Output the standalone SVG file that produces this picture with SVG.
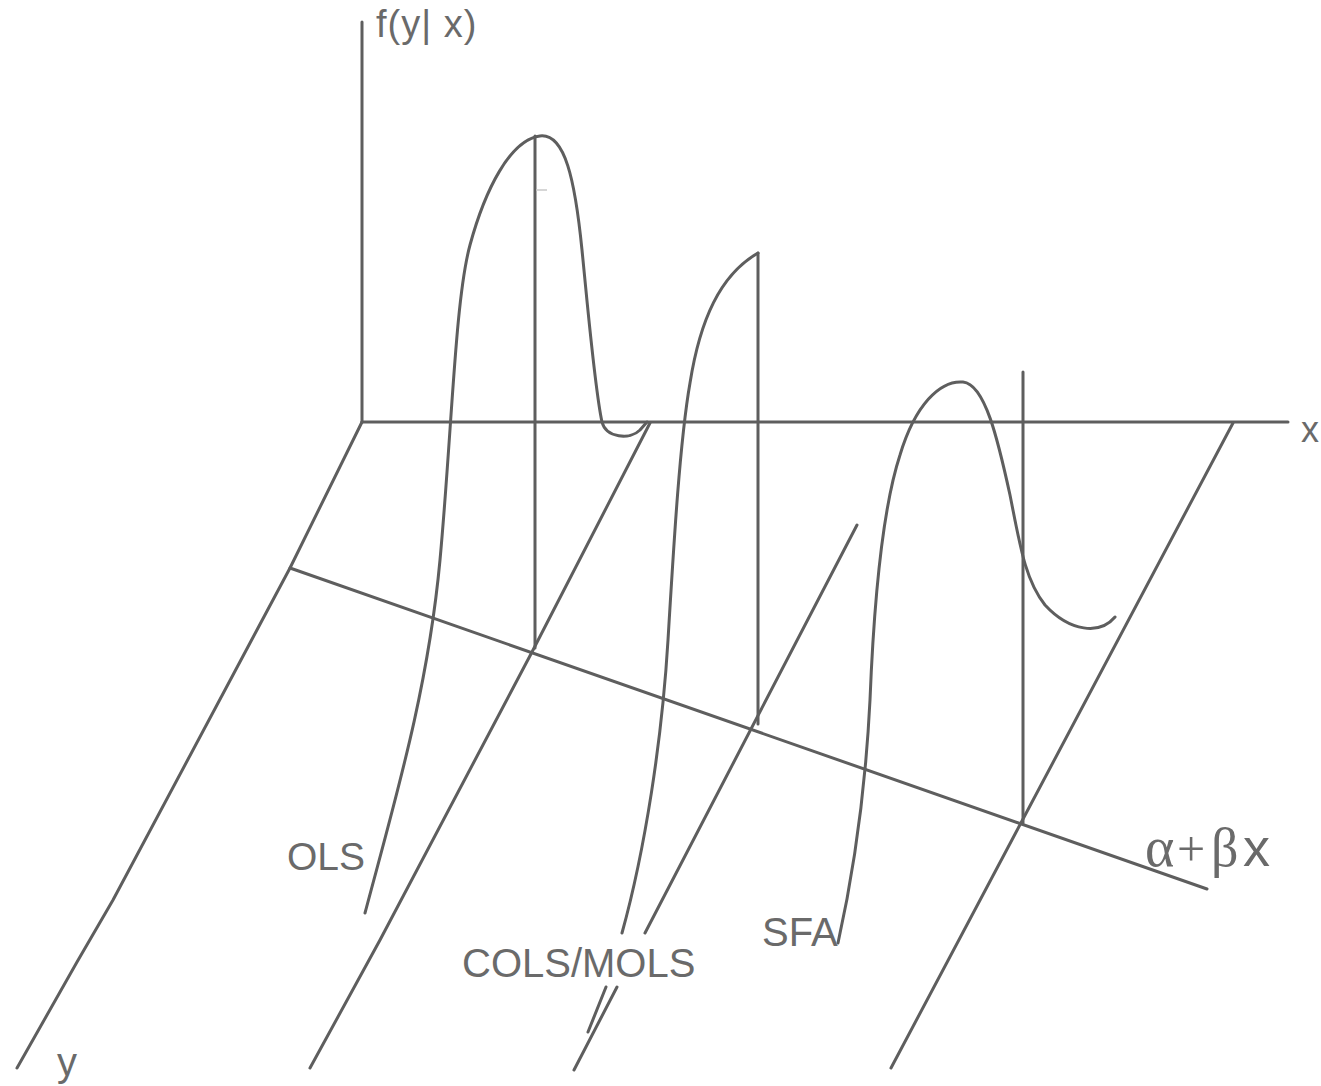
<svg xmlns="http://www.w3.org/2000/svg" width="1321" height="1086" viewBox="0 0 1321 1086">
<style>
.ln{fill:none;stroke:#5e5e5e;stroke-width:3;stroke-linecap:round;stroke-linejoin:round}
.lbl{font-family:"Liberation Sans",Arial,sans-serif;fill:#6a6a6a}
.sym{font-family:"Liberation Serif","DejaVu Serif",serif;fill:#6a6a6a}
</style>
<rect width="1321" height="1086" fill="#ffffff"/>
<g id="axes">
<line class="ln" x1="362" y1="22" x2="362" y2="422"/>
<line class="ln" x1="362" y1="422" x2="1288" y2="422"/>
</g>
<g id="floor-lines">
<polyline class="ln" points="362,422 290,568 113,900 77,962 17,1068"/>
<polyline class="ln" points="650,423 532,652 380,940 310,1068"/>
<line class="ln" x1="857" y1="525" x2="645" y2="933"/>
<line class="ln" x1="617" y1="987" x2="574" y2="1070"/>
<line class="ln" x1="1233" y1="423" x2="891" y2="1068"/>
</g>
<g id="regression-line">
<line class="ln" x1="290" y1="568" x2="1207" y2="889"/>
</g>
<g id="verticals">
<line class="ln" x1="535" y1="136" x2="535" y2="648"/>
<line class="ln" x1="758" y1="253" x2="758" y2="724"/>
<line class="ln" x1="1023" y1="372" x2="1023" y2="823"/>
<line x1="536" y1="190" x2="547" y2="190" stroke="#c8c8c8" stroke-width="1.5"/>
</g>
<g id="curve-ols">
<path class="ln" d="M365,913 C395,800 428,690 440,560 C452,430 455,300 470,245 C485,190 510,140 540,136 C565,133 575,180 582,250 C589,320 595,390 602,422 C606,438 630,440 640,430 L647,422"/>
</g>
<g id="curve-cols">
<path class="ln" d="M622,933 C645,850 662,740 668,640 C674,540 680,440 690,383 C700,320 720,275 758,253"/>
<line class="ln" x1="606" y1="987" x2="588" y2="1032"/>
</g>
<g id="curve-sfa">
<path class="ln" d="M838,943 C852,880 865,800 870,700 C874,600 882,510 900,455 C915,405 940,380 963,382 C985,384 998,440 1010,495 C1020,545 1025,580 1045,605 C1070,632 1100,635 1115,617"/>
</g>
<g id="labels">
<text class="lbl" x="376" y="37" font-size="38" letter-spacing="1">f(y| x)</text>
<text class="lbl" x="1301" y="442" font-size="36">x</text>
<text class="lbl" x="57" y="1076" font-size="40">y</text>
<text class="lbl" x="287" y="870" font-size="39">OLS</text>
<text class="lbl" x="462" y="977" font-size="40">COLS/MOLS</text>
<text class="lbl" x="762" y="946" font-size="40">SFA</text>
<text class="sym" x="1145" y="866" font-size="56">α</text>
<text class="sym" x="1177" y="866" font-size="50">+</text>
<text class="sym" x="1211" y="866" font-size="54">β</text>
<text class="lbl" x="1243" y="866" font-size="54">x</text>
</g>
</svg>
